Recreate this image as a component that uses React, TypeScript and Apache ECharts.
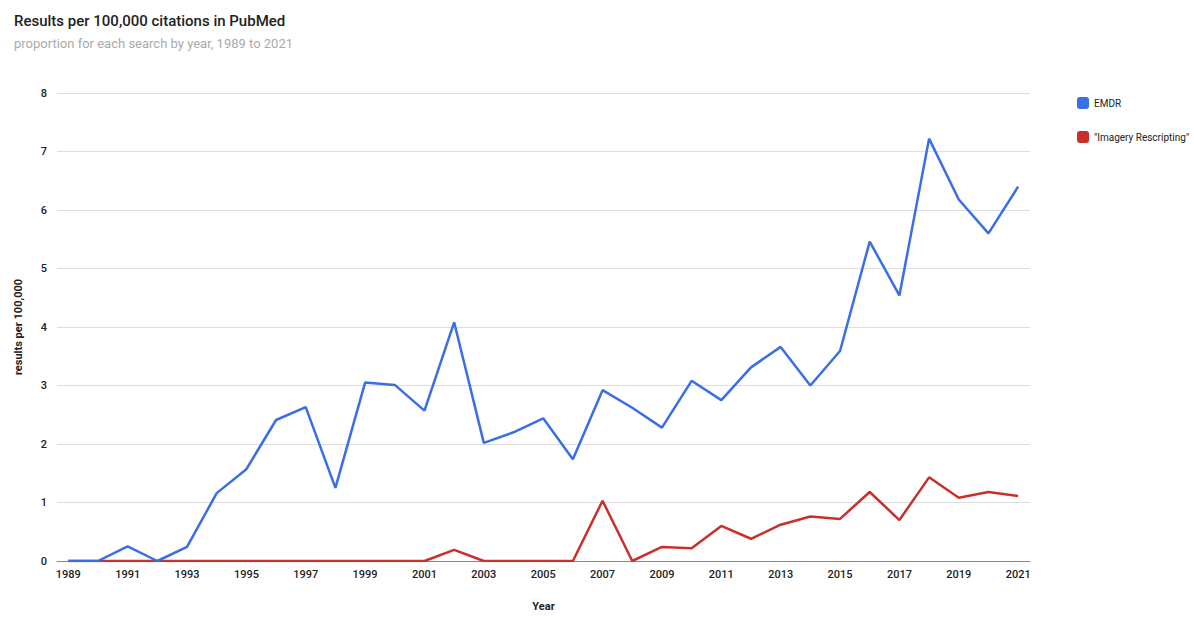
import React, { useEffect, useRef } from "react";
import * as echarts from "echarts";

const years = [1989,1990,1991,1992,1993,1994,1995,1996,1997,1998,1999,2000,2001,2002,2003,2004,2005,2006,2007,2008,2009,2010,2011,2012,2013,2014,2015,2016,2017,2018,2019,2020,2021];
const emdr = [0,0,0.25,0,0.24,1.16,1.57,2.41,2.63,1.25,3.05,3.01,2.57,4.08,2.02,2.2,2.44,1.74,2.92,2.62,2.28,3.08,2.75,3.31,3.66,3.0,3.59,5.46,4.54,7.22,6.18,5.6,6.4];
const imagery = [0,0,0,0,0,0,0,0,0,0,0,0,0,0.19,0,0,0,0,1.03,0,0.24,0.22,0.6,0.38,0.62,0.76,0.72,1.18,0.7,1.43,1.08,1.18,1.11];
const xTicks = [1989,1991,1993,1995,1997,1999,2001,2003,2005,2007,2009,2011,2013,2015,2017,2019,2021];
const seriesNames = ["EMDR", "\"Imagery Rescripting\""];

export default function App() {
  const ref = useRef<HTMLDivElement>(null);
  useEffect(() => {
    if (!ref.current) return;
    const chart = echarts.init(ref.current, null, { renderer: "svg" });
    const font = "Roboto, 'Noto Sans', sans-serif";
    chart.setOption({
      animation: false,
      backgroundColor: "#ffffff",
      title: [
        {
          text: "Results per 100,000 citations in PubMed",
          left: 9,
          top: 8,
          textStyle: { fontFamily: font, fontSize: 15, fontWeight: 500, color: "#222" },
        },
        {
          text: "proportion for each search by year, 1989 to 2021",
          left: 9,
          top: 32,
          textStyle: { fontFamily: font, fontSize: 13, fontWeight: "normal", color: "#aaa" },
        },
      ],
      legend: {
        orient: "vertical",
        left: 1072,
        top: 92,
        itemWidth: 12,
        itemHeight: 12,
        itemGap: 22,
        icon: "roundRect",
        textStyle: { fontFamily: font, fontSize: 10, color: "#222" },
        data: seriesNames,
      },
      grid: { left: 57, right: 164, top: 93, bottom: 52 },
      xAxis: {
        type: "value",
        min: 1988.62,
        max: 2021.4,
        name: "Year",
        nameLocation: "middle",
        nameGap: 40,
        nameTextStyle: { fontFamily: font, fontSize: 11, fontWeight: "bold", color: "#222" },
        axisLine: { show: true, lineStyle: { color: "#888", width: 1 } },
        axisTick: { show: false },
        splitLine: { show: false },
        axisLabel: {
          customValues: xTicks,
          formatter: (v: number) => String(v),
          fontFamily: font,
          fontSize: 11,
          fontWeight: 500,
          color: "#222",
          margin: 8,
        },
      },
      yAxis: {
        type: "value",
        min: 0,
        max: 8,
        interval: 1,
        name: "results per 100,000",
        nameLocation: "middle",
        nameGap: 33,
        nameTextStyle: { fontFamily: font, fontSize: 11, fontWeight: "bold", color: "#222" },
        axisLine: { show: false },
        axisTick: { show: false },
        splitLine: { lineStyle: { color: "#ddd", width: 1 } },
        axisLabel: { fontFamily: font, fontSize: 11, fontWeight: 500, color: "#222", margin: 10 },
      },
      series: [
        {
          name: seriesNames[0],
          type: "line",
          data: years.map((y, i) => [y, emdr[i]]),
          showSymbol: false,
          symbol: "none",
          itemStyle: { color: "#3a6ee6" },
          lineStyle: { color: "#3a6ee6", width: 2.5 },
          z: 3,
        },
        {
          name: seriesNames[1],
          type: "line",
          data: years.map((y, i) => [y, imagery[i]]),
          showSymbol: false,
          symbol: "none",
          itemStyle: { color: "#c9302c" },
          lineStyle: { color: "#c9302c", width: 2.5 },
          z: 2,
        },
      ],
    });
    return () => chart.dispose();
  }, []);
  return <div ref={ref} style={{ position: "fixed", left: 0, top: 0, width: 1194, height: 617 }} />;
}
